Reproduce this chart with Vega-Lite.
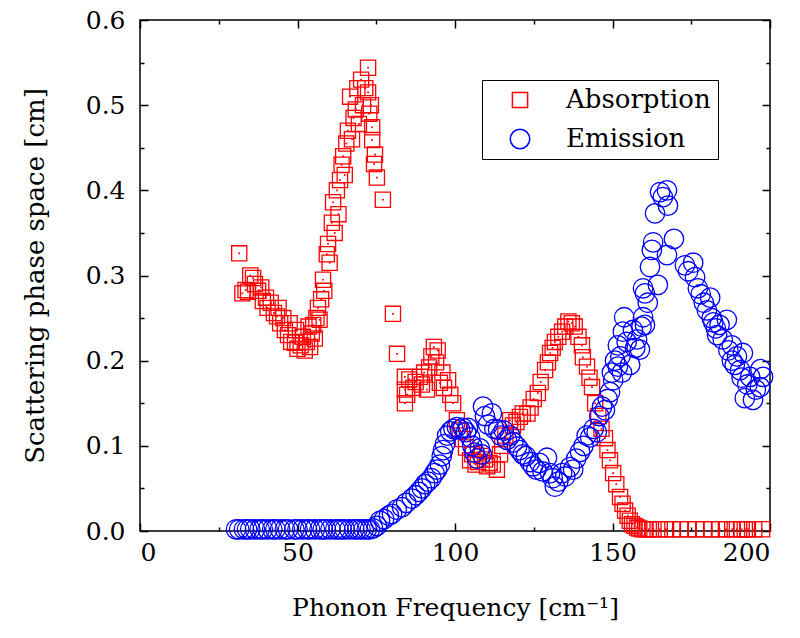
{
"$schema":"https://vega.github.io/schema/vega-lite/v6.json",
"width":630,"height":511,
"autosize":{"type":"none"},
"padding":{"left":140,"top":20,"right":30,"bottom":107},
"background":"white",
"config":{"view":{"stroke":"black","strokeWidth":1.5},"font":"DejaVu Serif"},
"data":{"values":[
{"series":"Absorption","f":31.5,"v":0.326},{"series":"Absorption","f":32.5,"v":0.279},{"series":"Absorption","f":33.5,"v":0.283},{"series":"Absorption","f":34.3,"v":0.281},{"series":"Absorption","f":35,"v":0.3},{"series":"Absorption","f":35.9,"v":0.297},{"series":"Absorption","f":36.5,"v":0.29},{"series":"Absorption","f":37.5,"v":0.282},{"series":"Absorption","f":38.5,"v":0.286},{"series":"Absorption","f":39,"v":0.27},{"series":"Absorption","f":40,"v":0.274},{"series":"Absorption","f":40.5,"v":0.262},{"series":"Absorption","f":41.5,"v":0.268},{"series":"Absorption","f":42.5,"v":0.256},{"series":"Absorption","f":43.5,"v":0.252},{"series":"Absorption","f":44,"v":0.262},{"series":"Absorption","f":44.5,"v":0.244},{"series":"Absorption","f":45.5,"v":0.25},{"series":"Absorption","f":46,"v":0.236},{"series":"Absorption","f":47,"v":0.23},{"series":"Absorption","f":47.5,"v":0.244},{"series":"Absorption","f":48,"v":0.222},{"series":"Absorption","f":49.2,"v":0.221},{"series":"Absorption","f":49.5,"v":0.236},{"series":"Absorption","f":50,"v":0.214},{"series":"Absorption","f":51,"v":0.218},{"series":"Absorption","f":51.7,"v":0.228},{"series":"Absorption","f":52.3,"v":0.212},{"series":"Absorption","f":53,"v":0.222},{"series":"Absorption","f":53.5,"v":0.24},{"series":"Absorption","f":54,"v":0.216},{"series":"Absorption","f":54.5,"v":0.232},{"series":"Absorption","f":55,"v":0.242},{"series":"Absorption","f":55.5,"v":0.226},{"series":"Absorption","f":56,"v":0.25},{"series":"Absorption","f":56.5,"v":0.262},{"series":"Absorption","f":57,"v":0.248},{"series":"Absorption","f":57.5,"v":0.272},{"series":"Absorption","f":58.1,"v":0.295},{"series":"Absorption","f":58.5,"v":0.282},{"series":"Absorption","f":59.3,"v":0.325},{"series":"Absorption","f":59.7,"v":0.337},{"series":"Absorption","f":60.2,"v":0.315},{"series":"Absorption","f":60.9,"v":0.362},{"series":"Absorption","f":61.3,"v":0.386},{"series":"Absorption","f":61.8,"v":0.35},{"series":"Absorption","f":62.5,"v":0.4},{"series":"Absorption","f":63,"v":0.372},{"series":"Absorption","f":63.5,"v":0.412},{"series":"Absorption","f":64,"v":0.43},{"series":"Absorption","f":64.5,"v":0.44},{"series":"Absorption","f":65,"v":0.418},{"series":"Absorption","f":65.5,"v":0.455},{"series":"Absorption","f":66,"v":0.47},{"series":"Absorption","f":66.7,"v":0.51},{"series":"Absorption","f":67.3,"v":0.46},{"series":"Absorption","f":67.8,"v":0.485},{"series":"Absorption","f":68.5,"v":0.495},{"series":"Absorption","f":69,"v":0.52},{"series":"Absorption","f":69.5,"v":0.478},{"series":"Absorption","f":70.2,"v":0.53},{"series":"Absorption","f":70.8,"v":0.5},{"series":"Absorption","f":71.5,"v":0.52},{"series":"Absorption","f":72.4,"v":0.544},{"series":"Absorption","f":72.4,"v":0.515},{"series":"Absorption","f":72.8,"v":0.49},{"series":"Absorption","f":73.3,"v":0.5},{"series":"Absorption","f":73.7,"v":0.474},{"series":"Absorption","f":73.7,"v":0.459},{"series":"Absorption","f":74.3,"v":0.431},{"series":"Absorption","f":74.6,"v":0.442},{"series":"Absorption","f":75.2,"v":0.415},{"series":"Absorption","f":77.1,"v":0.389},{"series":"Absorption","f":80.3,"v":0.255},{"series":"Absorption","f":81.6,"v":0.208},{"series":"Absorption","f":84.1,"v":0.181},{"series":"Absorption","f":84.1,"v":0.166},{"series":"Absorption","f":84.1,"v":0.15},{"series":"Absorption","f":84.8,"v":0.16},{"series":"Absorption","f":85.5,"v":0.178},{"series":"Absorption","f":86.7,"v":0.168},{"series":"Absorption","f":87.5,"v":0.175},{"series":"Absorption","f":88.9,"v":0.181},{"series":"Absorption","f":89.5,"v":0.172},{"series":"Absorption","f":90.2,"v":0.186},{"series":"Absorption","f":91.1,"v":0.166},{"series":"Absorption","f":91.8,"v":0.192},{"series":"Absorption","f":92.5,"v":0.205},{"series":"Absorption","f":93.3,"v":0.216},{"series":"Absorption","f":94,"v":0.198},{"series":"Absorption","f":94.5,"v":0.212},{"series":"Absorption","f":95.2,"v":0.174},{"series":"Absorption","f":96,"v":0.186},{"series":"Absorption","f":96.5,"v":0.168},{"series":"Absorption","f":97.8,"v":0.177},{"series":"Absorption","f":98.5,"v":0.16},{"series":"Absorption","f":99.4,"v":0.15},{"series":"Absorption","f":100.6,"v":0.13},{"series":"Absorption","f":101.5,"v":0.118},{"series":"Absorption","f":102.5,"v":0.108},{"series":"Absorption","f":103.5,"v":0.098},{"series":"Absorption","f":104.8,"v":0.083},{"series":"Absorption","f":105.5,"v":0.09},{"series":"Absorption","f":106.5,"v":0.078},{"series":"Absorption","f":107.3,"v":0.081},{"series":"Absorption","f":108.5,"v":0.088},{"series":"Absorption","f":109.5,"v":0.084},{"series":"Absorption","f":110.2,"v":0.076},{"series":"Absorption","f":111,"v":0.08},{"series":"Absorption","f":112,"v":0.078},{"series":"Absorption","f":113.3,"v":0.072},{"series":"Absorption","f":114.3,"v":0.09},{"series":"Absorption","f":115,"v":0.1},{"series":"Absorption","f":116,"v":0.112},{"series":"Absorption","f":117.5,"v":0.13},{"series":"Absorption","f":118.4,"v":0.124},{"series":"Absorption","f":119.5,"v":0.128},{"series":"Absorption","f":120.6,"v":0.134},{"series":"Absorption","f":121.5,"v":0.138},{"series":"Absorption","f":123,"v":0.138},{"series":"Absorption","f":124,"v":0.145},{"series":"Absorption","f":125,"v":0.155},{"series":"Absorption","f":126.3,"v":0.162},{"series":"Absorption","f":127.2,"v":0.175},{"series":"Absorption","f":128.6,"v":0.189},{"series":"Absorption","f":129.5,"v":0.198},{"series":"Absorption","f":130.2,"v":0.209},{"series":"Absorption","f":131,"v":0.215},{"series":"Absorption","f":131.7,"v":0.222},{"series":"Absorption","f":132.8,"v":0.228},{"series":"Absorption","f":134,"v":0.234},{"series":"Absorption","f":135,"v":0.24},{"series":"Absorption","f":136,"v":0.246},{"series":"Absorption","f":137.1,"v":0.244},{"series":"Absorption","f":138,"v":0.24},{"series":"Absorption","f":139.2,"v":0.228},{"series":"Absorption","f":140.3,"v":0.218},{"series":"Absorption","f":140.6,"v":0.204},{"series":"Absorption","f":141.9,"v":0.193},{"series":"Absorption","f":142.7,"v":0.18},{"series":"Absorption","f":143.5,"v":0.169},{"series":"Absorption","f":144.5,"v":0.15},{"series":"Absorption","f":145.5,"v":0.135},{"series":"Absorption","f":146.5,"v":0.12},{"series":"Absorption","f":147.6,"v":0.109},{"series":"Absorption","f":148.4,"v":0.095},{"series":"Absorption","f":149.2,"v":0.083},{"series":"Absorption","f":150.2,"v":0.068},{"series":"Absorption","f":151.2,"v":0.055},{"series":"Absorption","f":152.4,"v":0.04},{"series":"Absorption","f":153.2,"v":0.032},{"series":"Absorption","f":154,"v":0.024},{"series":"Absorption","f":154.8,"v":0.018},{"series":"Absorption","f":155.5,"v":0.012},{"series":"Absorption","f":156.2,"v":0.008},{"series":"Absorption","f":157,"v":0.006},{"series":"Absorption","f":157.8,"v":0.004},{"series":"Absorption","f":158.5,"v":0.003},{"series":"Absorption","f":159.5,"v":0.002},{"series":"Absorption","f":160.5,"v":0.002},{"series":"Absorption","f":161.5,"v":0.002},{"series":"Absorption","f":163,"v":0.002},{"series":"Absorption","f":165,"v":0.002},{"series":"Absorption","f":167,"v":0.002},{"series":"Absorption","f":169,"v":0.002},{"series":"Absorption","f":171.5,"v":0.002},{"series":"Absorption","f":174,"v":0.002},{"series":"Absorption","f":176.5,"v":0.002},{"series":"Absorption","f":179,"v":0.002},{"series":"Absorption","f":181.5,"v":0.002},{"series":"Absorption","f":184,"v":0.002},{"series":"Absorption","f":186,"v":0.002},{"series":"Absorption","f":188,"v":0.002},{"series":"Absorption","f":189.5,"v":0.002},{"series":"Absorption","f":191,"v":0.002},{"series":"Absorption","f":192,"v":0.002},{"series":"Absorption","f":193,"v":0.002},{"series":"Absorption","f":195,"v":0.002},{"series":"Absorption","f":197.5,"v":0.002},
{"series":"Emission","f":30.5,"v":0.002},{"series":"Emission","f":31.5,"v":0.002},{"series":"Emission","f":33,"v":0.002},{"series":"Emission","f":34,"v":0.002},{"series":"Emission","f":35,"v":0.002},{"series":"Emission","f":36.5,"v":0.002},{"series":"Emission","f":38,"v":0.002},{"series":"Emission","f":39,"v":0.002},{"series":"Emission","f":40.5,"v":0.002},{"series":"Emission","f":42,"v":0.002},{"series":"Emission","f":43,"v":0.002},{"series":"Emission","f":44.5,"v":0.002},{"series":"Emission","f":46,"v":0.002},{"series":"Emission","f":47,"v":0.002},{"series":"Emission","f":49,"v":0.002},{"series":"Emission","f":50,"v":0.002},{"series":"Emission","f":51.5,"v":0.002},{"series":"Emission","f":53,"v":0.002},{"series":"Emission","f":54,"v":0.002},{"series":"Emission","f":55.5,"v":0.002},{"series":"Emission","f":57,"v":0.002},{"series":"Emission","f":58,"v":0.002},{"series":"Emission","f":59,"v":0.002},{"series":"Emission","f":60.5,"v":0.002},{"series":"Emission","f":62,"v":0.002},{"series":"Emission","f":63,"v":0.002},{"series":"Emission","f":64,"v":0.002},{"series":"Emission","f":65,"v":0.002},{"series":"Emission","f":66.5,"v":0.002},{"series":"Emission","f":68,"v":0.002},{"series":"Emission","f":69,"v":0.002},{"series":"Emission","f":70,"v":0.002},{"series":"Emission","f":71,"v":0.002},{"series":"Emission","f":72,"v":0.002},{"series":"Emission","f":73,"v":0.002},{"series":"Emission","f":74,"v":0.003},{"series":"Emission","f":75.2,"v":0.006},{"series":"Emission","f":76.2,"v":0.012},{"series":"Emission","f":77.5,"v":0.014},{"series":"Emission","f":79,"v":0.018},{"series":"Emission","f":80,"v":0.02},{"series":"Emission","f":81.5,"v":0.025},{"series":"Emission","f":83.2,"v":0.028},{"series":"Emission","f":84.5,"v":0.033},{"series":"Emission","f":86.3,"v":0.038},{"series":"Emission","f":87.5,"v":0.042},{"series":"Emission","f":88.5,"v":0.046},{"series":"Emission","f":89.5,"v":0.05},{"series":"Emission","f":90.5,"v":0.055},{"series":"Emission","f":91.4,"v":0.058},{"series":"Emission","f":92.5,"v":0.062},{"series":"Emission","f":93.5,"v":0.068},{"series":"Emission","f":94.3,"v":0.072},{"series":"Emission","f":95.2,"v":0.078},{"series":"Emission","f":95.8,"v":0.088},{"series":"Emission","f":96.2,"v":0.095},{"series":"Emission","f":96.8,"v":0.102},{"series":"Emission","f":97.5,"v":0.112},{"series":"Emission","f":98.5,"v":0.117},{"series":"Emission","f":99.5,"v":0.12},{"series":"Emission","f":100.6,"v":0.122},{"series":"Emission","f":101.6,"v":0.119},{"series":"Emission","f":102.5,"v":0.121},{"series":"Emission","f":103.5,"v":0.116},{"series":"Emission","f":104.1,"v":0.121},{"series":"Emission","f":104.8,"v":0.11},{"series":"Emission","f":105.5,"v":0.1},{"series":"Emission","f":106.2,"v":0.092},{"series":"Emission","f":107,"v":0.085},{"series":"Emission","f":107.9,"v":0.097},{"series":"Emission","f":108.5,"v":0.09},{"series":"Emission","f":108.9,"v":0.146},{"series":"Emission","f":109.5,"v":0.135},{"series":"Emission","f":110.5,"v":0.125},{"series":"Emission","f":111.7,"v":0.138},{"series":"Emission","f":112.5,"v":0.12},{"series":"Emission","f":113.7,"v":0.119},{"series":"Emission","f":114.5,"v":0.112},{"series":"Emission","f":115.5,"v":0.118},{"series":"Emission","f":116.5,"v":0.107},{"series":"Emission","f":117.5,"v":0.112},{"series":"Emission","f":118.5,"v":0.104},{"series":"Emission","f":119.7,"v":0.099},{"series":"Emission","f":120.5,"v":0.095},{"series":"Emission","f":121.5,"v":0.09},{"series":"Emission","f":122.5,"v":0.088},{"series":"Emission","f":123.8,"v":0.081},{"series":"Emission","f":124.8,"v":0.076},{"series":"Emission","f":125.8,"v":0.072},{"series":"Emission","f":126.8,"v":0.08},{"series":"Emission","f":127.8,"v":0.07},{"series":"Emission","f":129.2,"v":0.086},{"series":"Emission","f":130.2,"v":0.068},{"series":"Emission","f":131,"v":0.062},{"series":"Emission","f":131.7,"v":0.052},{"series":"Emission","f":132.8,"v":0.058},{"series":"Emission","f":134,"v":0.068},{"series":"Emission","f":135,"v":0.064},{"series":"Emission","f":136.5,"v":0.075},{"series":"Emission","f":137.5,"v":0.072},{"series":"Emission","f":138.5,"v":0.085},{"series":"Emission","f":139.7,"v":0.093},{"series":"Emission","f":140.8,"v":0.1},{"series":"Emission","f":141.8,"v":0.112},{"series":"Emission","f":142.9,"v":0.11},{"series":"Emission","f":144,"v":0.12},{"series":"Emission","f":145,"v":0.116},{"series":"Emission","f":145.8,"v":0.135},{"series":"Emission","f":146.7,"v":0.146},{"series":"Emission","f":147.6,"v":0.142},{"series":"Emission","f":148.5,"v":0.155},{"series":"Emission","f":149.2,"v":0.163},{"series":"Emission","f":149.8,"v":0.186},{"series":"Emission","f":150.2,"v":0.177},{"series":"Emission","f":150.8,"v":0.2},{"series":"Emission","f":151.7,"v":0.218},{"series":"Emission","f":151.7,"v":0.193},{"series":"Emission","f":152.5,"v":0.205},{"series":"Emission","f":153,"v":0.186},{"series":"Emission","f":153.3,"v":0.234},{"series":"Emission","f":153.7,"v":0.251},{"series":"Emission","f":154.5,"v":0.222},{"series":"Emission","f":155.6,"v":0.195},{"series":"Emission","f":156.5,"v":0.236},{"series":"Emission","f":157.2,"v":0.215},{"series":"Emission","f":157.8,"v":0.225},{"series":"Emission","f":158.7,"v":0.213},{"series":"Emission","f":159.2,"v":0.24},{"series":"Emission","f":159.7,"v":0.251},{"series":"Emission","f":159.7,"v":0.285},{"series":"Emission","f":160.3,"v":0.242},{"series":"Emission","f":160.3,"v":0.279},{"series":"Emission","f":161.2,"v":0.268},{"series":"Emission","f":161.9,"v":0.31},{"series":"Emission","f":162.5,"v":0.33},{"series":"Emission","f":162.9,"v":0.339},{"series":"Emission","f":163.5,"v":0.373},{"series":"Emission","f":164.4,"v":0.289},{"series":"Emission","f":165.1,"v":0.398},{"series":"Emission","f":166,"v":0.392},{"series":"Emission","f":167.3,"v":0.4},{"series":"Emission","f":167.6,"v":0.382},{"series":"Emission","f":167.3,"v":0.324},{"series":"Emission","f":169.5,"v":0.343},{"series":"Emission","f":173,"v":0.312},{"series":"Emission","f":174,"v":0.305},{"series":"Emission","f":175.6,"v":0.315},{"series":"Emission","f":176.2,"v":0.298},{"series":"Emission","f":177.1,"v":0.285},{"series":"Emission","f":178,"v":0.278},{"series":"Emission","f":179,"v":0.268},{"series":"Emission","f":180,"v":0.259},{"series":"Emission","f":181,"v":0.274},{"series":"Emission","f":181.5,"v":0.25},{"series":"Emission","f":182,"v":0.245},{"series":"Emission","f":182.8,"v":0.238},{"series":"Emission","f":183.2,"v":0.23},{"series":"Emission","f":184,"v":0.242},{"series":"Emission","f":185,"v":0.225},{"series":"Emission","f":186.3,"v":0.248},{"series":"Emission","f":186.8,"v":0.212},{"series":"Emission","f":187.9,"v":0.218},{"series":"Emission","f":187.9,"v":0.2},{"series":"Emission","f":188.8,"v":0.195},{"series":"Emission","f":189.5,"v":0.205},{"series":"Emission","f":190.5,"v":0.189},{"series":"Emission","f":191.4,"v":0.209},{"series":"Emission","f":191,"v":0.18},{"series":"Emission","f":192,"v":0.156},{"series":"Emission","f":192.8,"v":0.172},{"series":"Emission","f":193.7,"v":0.181},{"series":"Emission","f":194.6,"v":0.154},{"series":"Emission","f":195.5,"v":0.166},{"series":"Emission","f":196.8,"v":0.169},{"series":"Emission","f":197.8,"v":0.181},{"series":"Emission","f":197,"v":0.19}
]},
"layer":[
{"mark":{"type":"point","filled":false,"strokeWidth":1.3,"opacity":1},
 "encoding":{
  "x":{"field":"f","type":"quantitative","scale":{"domain":[0,200],"nice":false},
   "axis":{"orient":"bottom","values":[0,25,50,75,100,125,150,175,200],"labelExpr":"datum.value % 50 === 0 ? datum.label : ''",
    "tickSize":{"condition":{"test":"datum.value % 50 === 0","value":-8},"value":-4},
    "domain":false,"grid":false,"tickColor":"black","tickWidth":1.5,"labelFontSize":25,"labelColor":"black","labelPadding":17,
    "title":"Phonon Frequency [cm⁻¹]","titleFontSize":25,"titleFontWeight":"normal","titleColor":"black","titlePadding":30}},
  "y":{"field":"v","type":"quantitative","scale":{"domain":[0,0.6],"nice":false},
   "axis":{"orient":"left","values":[0,0.05,0.1,0.15,0.2,0.25,0.3,0.35,0.4,0.45,0.5,0.55,0.6],"format":".1f","labelExpr":"round(datum.value*100) % 10 === 0 ? datum.label : ''",
    "tickSize":{"condition":{"test":"round(datum.value*100) % 10 === 0","value":-8},"value":-4},
    "domain":false,"grid":false,"tickColor":"black","tickWidth":1.5,"labelFontSize":25,"labelColor":"black","labelPadding":23,
    "title":"Scattering phase space [cm]","titleFontSize":26,"titleFontWeight":"normal","titleColor":"black","titlePadding":37}},
  "color":{"field":"series","type":"nominal","scale":{"domain":["Absorption","Emission"],"range":["#ff0000","#0000ff"]},
   "legend":{"title":null,"orient":"none","legendX":342,"legendY":60,"strokeColor":"black","padding":7,"symbolOffset":18,"labelOffset":33,"labelFontSize":26,"labelColor":"black","symbolSize":230,"symbolStrokeWidth":1.5,"rowPadding":13,"labelLimit":300}},
  "shape":{"field":"series","type":"nominal","scale":{"domain":["Absorption","Emission"],"range":["square","circle"]}},
  "size":{"field":"series","type":"nominal","scale":{"domain":["Absorption","Emission"],"range":[230,380]},"legend":null}
 }},
{"transform":[{"filter":"datum.series === 'Absorption'"}],
 "mark":{"type":"point","shape":"square","filled":true,"size":3,"color":"#ff0000","opacity":1},
 "encoding":{
  "x":{"field":"f","type":"quantitative","scale":{"domain":[0,200],"nice":false},
   "axis":{"orient":"top","values":[0,25,50,75,100,125,150,175,200],"labels":false,"title":null,
    "tickSize":{"condition":{"test":"datum.value % 50 === 0","value":-8},"value":-4},
    "domain":false,"grid":false,"tickColor":"black","tickWidth":1.5}},
  "y":{"field":"v","type":"quantitative","scale":{"domain":[0,0.6],"nice":false},
   "axis":{"orient":"right","values":[0,0.05,0.1,0.15,0.2,0.25,0.3,0.35,0.4,0.45,0.5,0.55,0.6],"labels":false,"title":null,
    "tickSize":{"condition":{"test":"round(datum.value*100) % 10 === 0","value":-8},"value":-4},
    "domain":false,"grid":false,"tickColor":"black","tickWidth":1.5}}
 }}
],
"resolve":{"axis":{"x":"independent","y":"independent"}}
}
